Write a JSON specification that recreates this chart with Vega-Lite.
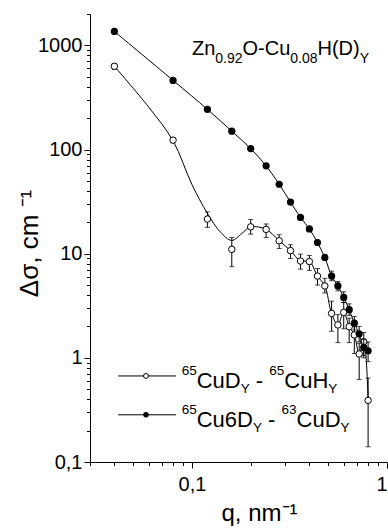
{
  "$schema": "https://vega.github.io/schema/vega-lite/v6.json",
  "width": 297,
  "height": 448,
  "autosize": "none",
  "padding": {"left": 90, "top": 14, "right": 1, "bottom": 67},
  "background": "white",
  "config": {
    "view": {"stroke": null},
    "font": "Liberation Sans",
    "axis": {
      "grid": false,
      "domainColor": "black",
      "tickColor": "black",
      "labelColor": "black",
      "titleColor": "black",
      "labelFont": "Liberation Sans",
      "titleFont": "Liberation Sans",
      "titleFontWeight": "normal",
      "domainWidth": 1,
      "tickWidth": 1
    }
  },
  "datasets": {
    "open": [
      {"q": 0.04, "v": 630, "lo": 590, "hi": 670},
      {"q": 0.08, "v": 123, "lo": 116, "hi": 130},
      {"q": 0.12, "v": 21.5, "lo": 17.9, "hi": 25.2},
      {"q": 0.16, "v": 11.0, "lo": 7.5, "hi": 14.3},
      {"q": 0.20, "v": 18.1, "lo": 15.4, "hi": 21.3},
      {"q": 0.24, "v": 17.1, "lo": 14.3, "hi": 19.3},
      {"q": 0.28, "v": 13.3, "lo": 11.2, "hi": 15.2},
      {"q": 0.32, "v": 10.7, "lo": 9.0, "hi": 12.2},
      {"q": 0.36, "v": 8.5, "lo": 7.1, "hi": 9.9},
      {"q": 0.40, "v": 8.4, "lo": 6.9, "hi": 9.6},
      {"q": 0.44, "v": 6.1, "lo": 5.0, "hi": 7.2},
      {"q": 0.48, "v": 4.9, "lo": 4.2, "hi": 5.8},
      {"q": 0.52, "v": 2.67, "lo": 1.8, "hi": 3.5},
      {"q": 0.56, "v": 2.07, "lo": 1.4, "hi": 2.6},
      {"q": 0.60, "v": 2.73, "lo": 1.9, "hi": 3.4},
      {"q": 0.64, "v": 1.99, "lo": 1.4, "hi": 2.4},
      {"q": 0.68, "v": 1.66, "lo": 1.1, "hi": 2.2},
      {"q": 0.72, "v": 1.09, "lo": 0.62, "hi": 1.38},
      {"q": 0.76, "v": 1.43, "lo": 1.0, "hi": 1.75},
      {"q": 0.80, "v": 0.39, "lo": 0.14, "hi": 0.64}
    ],
    "fit": [
      {"q": 0.04, "v": 630},
      {"q": 0.06, "v": 255},
      {"q": 0.08, "v": 121},
      {"q": 0.10, "v": 46},
      {"q": 0.12, "v": 24.4},
      {"q": 0.14, "v": 16.1},
      {"q": 0.16, "v": 13.4},
      {"q": 0.18, "v": 15.6},
      {"q": 0.20, "v": 18.1},
      {"q": 0.24, "v": 17.1},
      {"q": 0.28, "v": 13.3},
      {"q": 0.32, "v": 10.7},
      {"q": 0.36, "v": 8.5},
      {"q": 0.40, "v": 8.4},
      {"q": 0.44, "v": 6.1},
      {"q": 0.48, "v": 4.9},
      {"q": 0.52, "v": 2.67},
      {"q": 0.56, "v": 2.07},
      {"q": 0.60, "v": 2.73},
      {"q": 0.64, "v": 1.99},
      {"q": 0.68, "v": 1.66},
      {"q": 0.72, "v": 1.09},
      {"q": 0.76, "v": 1.43},
      {"q": 0.80, "v": 0.39}
    ],
    "filled": [
      {"q": 0.04, "v": 1360},
      {"q": 0.08, "v": 461},
      {"q": 0.12, "v": 243},
      {"q": 0.16, "v": 150},
      {"q": 0.20, "v": 102},
      {"q": 0.24, "v": 69.7},
      {"q": 0.28, "v": 46.4},
      {"q": 0.32, "v": 31.3},
      {"q": 0.36, "v": 22.3},
      {"q": 0.40, "v": 17.3},
      {"q": 0.44, "v": 12.8},
      {"q": 0.48, "v": 9.2},
      {"q": 0.52, "v": 6.1, "lo": 5.5, "hi": 6.8},
      {"q": 0.56, "v": 4.9, "lo": 4.4, "hi": 5.4},
      {"q": 0.60, "v": 3.8, "lo": 3.4, "hi": 4.3},
      {"q": 0.64, "v": 2.9, "lo": 2.55, "hi": 3.3},
      {"q": 0.68, "v": 2.15, "lo": 1.85, "hi": 2.5},
      {"q": 0.72, "v": 1.7, "lo": 1.42, "hi": 2.0},
      {"q": 0.76, "v": 1.26, "lo": 1.05, "hi": 1.5},
      {"q": 0.80, "v": 1.17, "lo": 0.92, "hi": 1.42}
    ],
    "legline": [
      {"q": 0.0418, "q2": 0.0828, "v": 0.67},
      {"q": 0.0418, "q2": 0.0828, "v": 0.284}
    ],
    "legsym1": [{"q": 0.0581, "v": 0.67}],
    "legsym2": [{"q": 0.0581, "v": 0.284}]
  },
  "encoding": {
    "x": {
      "field": "q",
      "type": "quantitative",
      "scale": {"type": "log", "domain": [0.03, 1], "nice": false},
      "axis": {
        "values": [0.03, 0.04, 0.05, 0.06, 0.07, 0.08, 0.09, 0.1, 0.2, 0.3, 0.4, 0.5, 0.6, 0.7, 0.8, 0.9, 1],
        "labelExpr": "datum.value == 0.1 ? '0,1' : (datum.value == 1 ? '1' : '')",
        "tickSize": {"condition": {"test": "datum.value == 0.1 || datum.value == 1", "value": 6}, "value": 3.5},
        "labelFontSize": 20,
        "labelBaseline": "alphabetic",
        "labelPadding": 22,
        "labelFlush": true,
        "labelOverlap": false,
        "title": "q, nm⁻¹",
        "titleFontSize": 24,
        "titleX": 169,
        "titleY": 58,
        "titleAlign": "center",
        "titleBaseline": "alphabetic"
      }
    },
    "y": {
      "field": "v",
      "type": "quantitative",
      "scale": {"type": "log", "domain": [0.1, 2000], "nice": false},
      "axis": {
        "values": [0.1, 0.2, 0.3, 0.4, 0.5, 0.6, 0.7, 0.8, 0.9, 1, 2, 3, 4, 5, 6, 7, 8, 9, 10, 20, 30, 40, 50, 60, 70, 80, 90, 100, 200, 300, 400, 500, 600, 700, 800, 900, 1000, 2000],
        "labelExpr": "datum.value == 0.1 ? '0,1' : ((datum.value == 1 || datum.value == 10 || datum.value == 100 || datum.value == 1000) ? format(datum.value, 'd') : '')",
        "tickSize": {"condition": {"test": "datum.value == 0.1 || datum.value == 1 || datum.value == 10 || datum.value == 100 || datum.value == 1000", "value": 6}, "value": 3.5},
        "labelFontSize": 20,
        "labelPadding": 2,
        "labelFlush": false,
        "labelOverlap": false,
        "title": "Δσ, cm ⁻¹",
        "titleFontSize": 26,
        "titleAngle": 270,
        "titleX": -53,
        "titleY": 229,
        "titleAlign": "center",
        "titleBaseline": "alphabetic"
      }
    }
  },
  "layer": [
    {"data": {"name": "fit"}, "mark": {"type": "line", "interpolate": "catmull-rom", "color": "black", "strokeWidth": 1}},
    {"data": {"name": "open"}, "mark": {"type": "rule", "color": "black", "strokeWidth": 1}, "encoding": {"y": {"field": "lo", "type": "quantitative"}, "y2": {"field": "hi"}}},
    {"data": {"name": "open"}, "mark": {"type": "tick", "orient": "horizontal", "color": "black", "size": 5, "thickness": 1}, "encoding": {"y": {"field": "lo", "type": "quantitative"}}},
    {"data": {"name": "open"}, "mark": {"type": "tick", "orient": "horizontal", "color": "black", "size": 5, "thickness": 1}, "encoding": {"y": {"field": "hi", "type": "quantitative"}}},
    {"data": {"name": "open"}, "mark": {"type": "point", "shape": "circle", "filled": false, "fill": "white", "fillOpacity": 1, "stroke": "black", "strokeWidth": 1, "opacity": 1, "size": 42}},
    {"data": {"name": "filled"}, "mark": {"type": "line", "interpolate": "catmull-rom", "color": "black", "strokeWidth": 1}},
    {"data": {"name": "filled"}, "transform": [{"filter": "isValid(datum.lo)"}], "mark": {"type": "rule", "color": "black", "strokeWidth": 1}, "encoding": {"y": {"field": "lo", "type": "quantitative"}, "y2": {"field": "hi"}}},
    {"data": {"name": "filled"}, "transform": [{"filter": "isValid(datum.lo)"}], "mark": {"type": "tick", "orient": "horizontal", "color": "black", "size": 5, "thickness": 1}, "encoding": {"y": {"field": "lo", "type": "quantitative"}}},
    {"data": {"name": "filled"}, "transform": [{"filter": "isValid(datum.lo)"}], "mark": {"type": "tick", "orient": "horizontal", "color": "black", "size": 5, "thickness": 1}, "encoding": {"y": {"field": "hi", "type": "quantitative"}}},
    {"data": {"name": "filled"}, "mark": {"type": "circle", "color": "black", "opacity": 1, "size": 52}},
    {"data": {"name": "legline"}, "mark": {"type": "rule", "color": "black", "strokeWidth": 1}, "encoding": {"x2": {"field": "q2"}}},
    {"data": {"name": "legsym1"}, "mark": {"type": "point", "shape": "circle", "filled": false, "fill": "white", "fillOpacity": 1, "stroke": "black", "strokeWidth": 1, "opacity": 1, "size": 24}},
    {"data": {"name": "legsym2"}, "mark": {"type": "circle", "color": "black", "opacity": 1, "size": 30}},

    {"data": {"values": [{"q": 0.1, "v": 802, "t": "Zn"}]}, "mark": {"type": "text", "align": "left", "baseline": "alphabetic", "fontSize": 20, "color": "black", "dx": 0}, "encoding": {"text": {"field": "t"}}},
    {"data": {"values": [{"q": 0.1, "v": 802, "t": "0.92"}]}, "mark": {"type": "text", "align": "left", "baseline": "alphabetic", "fontSize": 14, "color": "black", "dx": 23.3, "dy": 8}, "encoding": {"text": {"field": "t"}}},
    {"data": {"values": [{"q": 0.1, "v": 802, "t": "O-Cu"}]}, "mark": {"type": "text", "align": "left", "baseline": "alphabetic", "fontSize": 20, "color": "black", "dx": 50.5}, "encoding": {"text": {"field": "t"}}},
    {"data": {"values": [{"q": 0.1, "v": 802, "t": "0.08"}]}, "mark": {"type": "text", "align": "left", "baseline": "alphabetic", "fontSize": 14, "color": "black", "dx": 98.3, "dy": 8}, "encoding": {"text": {"field": "t"}}},
    {"data": {"values": [{"q": 0.1, "v": 802, "t": "H(D)"}]}, "mark": {"type": "text", "align": "left", "baseline": "alphabetic", "fontSize": 20, "color": "black", "dx": 125.5}, "encoding": {"text": {"field": "t"}}},
    {"data": {"values": [{"q": 0.1, "v": 802, "t": "Y"}]}, "mark": {"type": "text", "align": "left", "baseline": "alphabetic", "fontSize": 14, "color": "black", "dx": 167.7, "dy": 8}, "encoding": {"text": {"field": "t"}}},

    {"data": {"values": [{"q": 0.0886, "v": 0.67, "t": "65"}]}, "mark": {"type": "text", "align": "left", "baseline": "alphabetic", "fontSize": 13.5, "color": "black", "dx": 0, "dy": -1}, "encoding": {"text": {"field": "t"}}},
    {"data": {"values": [{"q": 0.0886, "v": 0.67, "t": "CuD"}]}, "mark": {"type": "text", "align": "left", "baseline": "alphabetic", "fontSize": 22, "color": "black", "dx": 15, "dy": 12}, "encoding": {"text": {"field": "t"}}},
    {"data": {"values": [{"q": 0.0886, "v": 0.67, "t": "Y"}]}, "mark": {"type": "text", "align": "left", "baseline": "alphabetic", "fontSize": 13.5, "color": "black", "dx": 59, "dy": 17}, "encoding": {"text": {"field": "t"}}},
    {"data": {"values": [{"q": 0.0886, "v": 0.67, "t": "-"}]}, "mark": {"type": "text", "align": "left", "baseline": "alphabetic", "fontSize": 22, "color": "black", "dx": 74.1, "dy": 12}, "encoding": {"text": {"field": "t"}}},
    {"data": {"values": [{"q": 0.0886, "v": 0.67, "t": "65"}]}, "mark": {"type": "text", "align": "left", "baseline": "alphabetic", "fontSize": 13.5, "color": "black", "dx": 87.6, "dy": -1}, "encoding": {"text": {"field": "t"}}},
    {"data": {"values": [{"q": 0.0886, "v": 0.67, "t": "CuH"}]}, "mark": {"type": "text", "align": "left", "baseline": "alphabetic", "fontSize": 22, "color": "black", "dx": 102.6, "dy": 12}, "encoding": {"text": {"field": "t"}}},
    {"data": {"values": [{"q": 0.0886, "v": 0.67, "t": "Y"}]}, "mark": {"type": "text", "align": "left", "baseline": "alphabetic", "fontSize": 13.5, "color": "black", "dx": 146.6, "dy": 17}, "encoding": {"text": {"field": "t"}}},

    {"data": {"values": [{"q": 0.0886, "v": 0.284, "t": "65"}]}, "mark": {"type": "text", "align": "left", "baseline": "alphabetic", "fontSize": 13.5, "color": "black", "dx": 0, "dy": -1}, "encoding": {"text": {"field": "t"}}},
    {"data": {"values": [{"q": 0.0886, "v": 0.284, "t": "Cu6D"}]}, "mark": {"type": "text", "align": "left", "baseline": "alphabetic", "fontSize": 22, "color": "black", "dx": 15, "dy": 12}, "encoding": {"text": {"field": "t"}}},
    {"data": {"values": [{"q": 0.0886, "v": 0.284, "t": "Y"}]}, "mark": {"type": "text", "align": "left", "baseline": "alphabetic", "fontSize": 13.5, "color": "black", "dx": 71.2, "dy": 17}, "encoding": {"text": {"field": "t"}}},
    {"data": {"values": [{"q": 0.0886, "v": 0.284, "t": "-"}]}, "mark": {"type": "text", "align": "left", "baseline": "alphabetic", "fontSize": 22, "color": "black", "dx": 86.3, "dy": 12}, "encoding": {"text": {"field": "t"}}},
    {"data": {"values": [{"q": 0.0886, "v": 0.284, "t": "63"}]}, "mark": {"type": "text", "align": "left", "baseline": "alphabetic", "fontSize": 13.5, "color": "black", "dx": 99.8, "dy": -1}, "encoding": {"text": {"field": "t"}}},
    {"data": {"values": [{"q": 0.0886, "v": 0.284, "t": "CuD"}]}, "mark": {"type": "text", "align": "left", "baseline": "alphabetic", "fontSize": 22, "color": "black", "dx": 114.8, "dy": 12}, "encoding": {"text": {"field": "t"}}},
    {"data": {"values": [{"q": 0.0886, "v": 0.284, "t": "Y"}]}, "mark": {"type": "text", "align": "left", "baseline": "alphabetic", "fontSize": 13.5, "color": "black", "dx": 158.8, "dy": 17}, "encoding": {"text": {"field": "t"}}}
  ]
}
